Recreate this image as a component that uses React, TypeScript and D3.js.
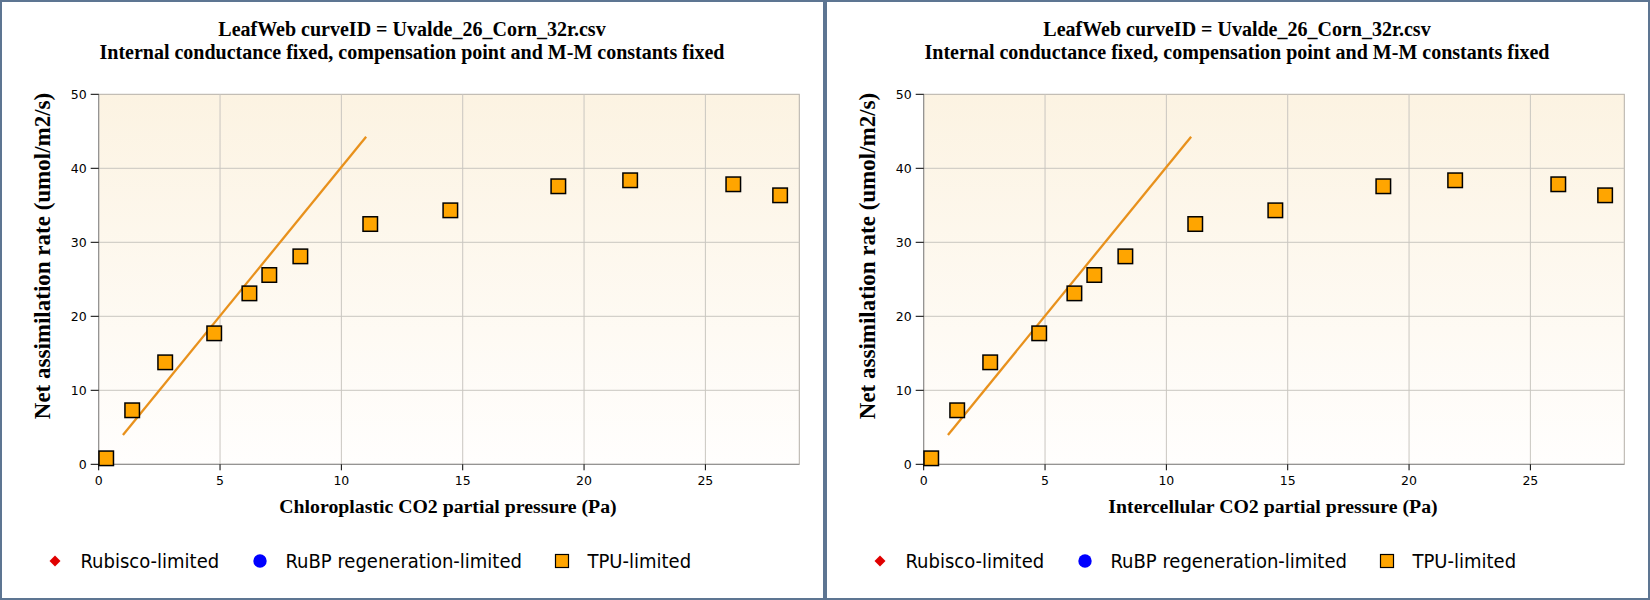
import * as d3 from 'd3';

const ciValues = [0.31, 1.38, 2.74, 4.76, 6.21, 7.03, 8.31, 11.19, 14.49, 18.94, 21.9, 26.15, 28.08];
const anValues = [0.81, 7.3, 13.78, 17.7, 23.1, 25.58, 28.1, 32.47, 34.32, 37.57, 38.38, 37.84, 36.35];
const rubiscoX = [1.0, 11.02];
const rubiscoY = [3.96, 44.27];
const xTicks = [0, 5, 10, 15, 20, 25];
const yTicks = [0, 10, 20, 30, 40, 50];
const titleLines = [
  'LeafWeb curveID = Uvalde_26_Corn_32r.csv',
  'Internal conductance fixed, compensation point and M-M constants fixed',
];
const xLabels = ['Chloroplastic CO2 partial pressure (Pa)', 'Intercellular CO2 partial pressure (Pa)'];
const yLabel = 'Net assimilation rate (umol/m2/s)';
const legendNames = ['Rubisco-limited', 'RuBP regeneration-limited', 'TPU-limited'];

const panelW = 825;
const margin = { left: 98.7, top: 94.3, right: 799.3, bottom: 464.3 };
const serif = "'Liberation Serif', 'Times New Roman', serif";
const sans = "'DejaVu Sans Condensed', 'DejaVu Sans', sans-serif";

const Panel = ({ offset, xLabel, idx }: { offset: number; xLabel: string; idx: number }) => {
  const x = d3.scaleLinear().domain([0, 28.87]).range([margin.left, margin.right]);
  const y = d3.scaleLinear().domain([0, 50]).range([margin.bottom, margin.top]);
  const line = d3.line<number>()
    .x((_, i) => x(rubiscoX[i]))
    .y(d => y(d));
  const gid = `bg${idx}`;
  const plotW = margin.right - margin.left;
  const plotH = margin.bottom - margin.top;
  const legendX = [55, 260, 562];
  const legendY = 561;

  return (
    <g transform={`translate(${offset},0)`}>
      <defs>
        <linearGradient id={gid} x1="0" y1="0" x2="0" y2="1">
          <stop offset="0%" stopColor="#fcf3e2" />
          <stop offset="100%" stopColor="#fffefd" />
        </linearGradient>
      </defs>
      <rect x={1} y={1} width={panelW - 2} height={598} fill="#fff" stroke="#5d7592" strokeWidth={2} />

      {titleLines.map((t, i) => (
        <text key={i} x={412} y={36 + i * 23} textAnchor="middle" fontFamily={serif}
          fontWeight="bold" fontSize={20} fill="#000">{t}</text>
      ))}

      <rect x={margin.left} y={margin.top} width={plotW} height={plotH} fill={`url(#${gid})`}
        stroke="#b5b0a8" strokeWidth={1} />

      {xTicks.slice(1).map(t => (
        <line key={`gx${t}`} x1={x(t)} x2={x(t)} y1={margin.top} y2={margin.bottom} stroke="#c9c6c0" strokeWidth={1} />
      ))}
      {yTicks.slice(1, -1).map(t => (
        <line key={`gy${t}`} x1={margin.left} x2={margin.right} y1={y(t)} y2={y(t)} stroke="#c9c6c0" strokeWidth={1} />
      ))}

      {/* axes */}
      <line x1={margin.left} x2={margin.left} y1={margin.top} y2={margin.bottom} stroke="#8a8a8a" />
      <line x1={margin.left} x2={margin.right} y1={margin.bottom} y2={margin.bottom} stroke="#8a8a8a" />
      {yTicks.map(t => (
        <g key={`ty${t}`}>
          <line x1={margin.left - 8} x2={margin.left} y1={y(t)} y2={y(t)} stroke="#000" />
          <text x={margin.left - 12} y={y(t) + 4.5} textAnchor="end" fontFamily="'DejaVu Sans', sans-serif"
            fontSize={12.5} fill="#000">{t}</text>
        </g>
      ))}
      {xTicks.map(t => (
        <g key={`tx${t}`}>
          <line x1={x(t)} x2={x(t)} y1={margin.bottom} y2={margin.bottom + 6} stroke="#000" />
          <text x={x(t)} y={485} textAnchor="middle" fontFamily="'DejaVu Sans', sans-serif"
            fontSize={12.5} fill="#000">{t}</text>
        </g>
      ))}

      <text x={448} y={513} textAnchor="middle" fontFamily={serif}
        fontWeight="bold" fontSize={19.8} fill="#000">{xLabel}</text>
      <text transform={`translate(49.5,256) rotate(-90)`} textAnchor="middle" fontFamily={serif}
        fontWeight="bold" fontSize={23} fill="#000">{yLabel}</text>

      {/* Rubisco-limited line */}
      <path d={line(rubiscoY) || ''} fill="none" stroke="#e8911c" strokeWidth={2.3} />

      {/* TPU-limited points */}
      {ciValues.map((c, i) => (
        <rect key={`p${i}`} x={x(c) - 7.25} y={y(anValues[i]) - 7.25} width={14.5} height={14.5}
          fill="#ffa500" stroke="#000" strokeWidth={1.5} />
      ))}

      {/* legend */}
      <path d={`M${legendX[0]},${legendY - 5.5} L${legendX[0] + 5.5},${legendY} L${legendX[0]},${legendY + 5.5} L${legendX[0] - 5.5},${legendY} Z`}
        fill="#e00000" />
      <circle cx={legendX[1]} cy={legendY} r={6.7} fill="#0000ff" />
      <rect x={legendX[2] - 6.5} y={legendY - 6.5} width={13} height={13} fill="#ffa500" stroke="#000" strokeWidth={1.2} />
      {legendNames.map((n, i) => (
        <text key={n} x={legendX[i] + 25.5} y={legendY + 7} fontFamily={sans} fontSize={20} fill="#000">{n}</text>
      ))}
    </g>
  );
};

export default function App() {
  return (
    <>
      <style>{'body{margin:0}'}</style>
      <svg width={1650} height={600} style={{ display: 'block' }}>
        {xLabels.map((l, i) => (
          <Panel key={i} idx={i} offset={i * panelW} xLabel={l} />
        ))}
      </svg>
    </>
  );
}
